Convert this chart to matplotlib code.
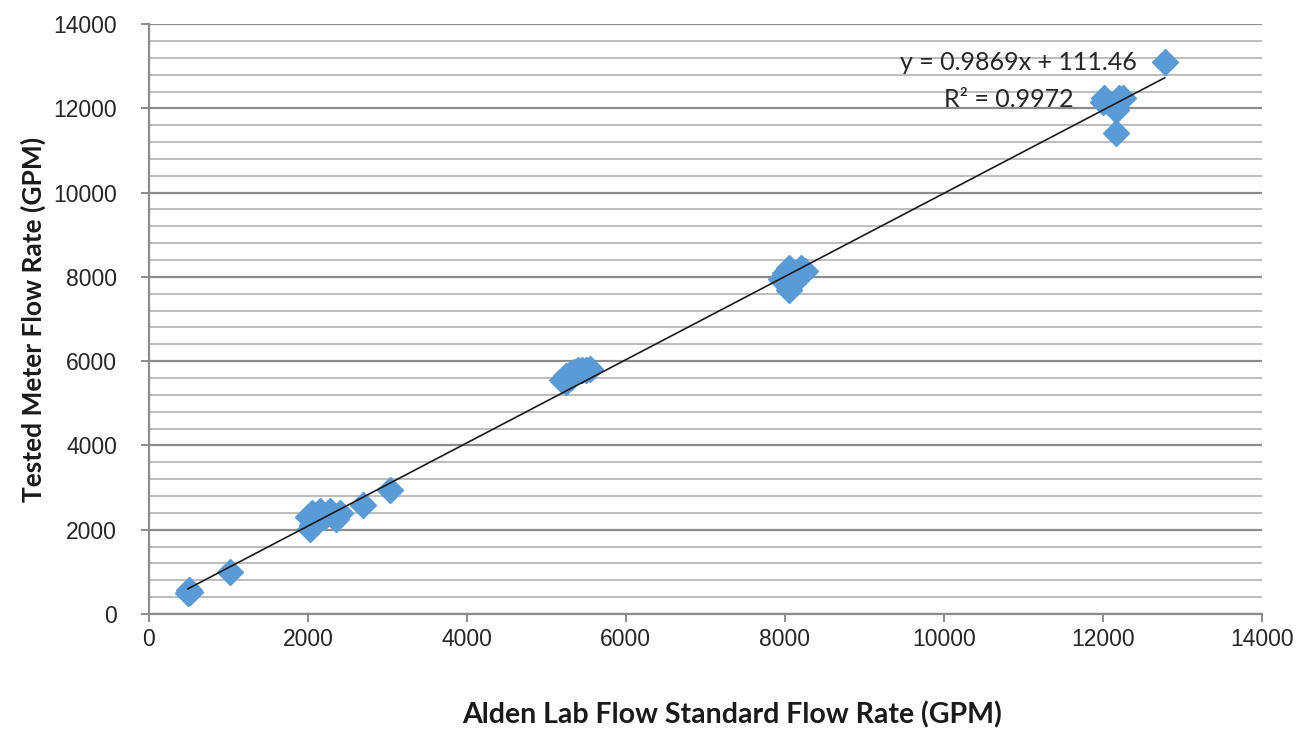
import numpy as np
import matplotlib.pyplot as plt
from matplotlib.ticker import MultipleLocator

# Alden lab standard flow (x) vs tested meter flow (y), GPM
lab_flow = [490, 520, 510, 1020,
            2000, 2030, 2050, 2100, 2150, 2200, 2250, 2300, 2350, 2400, 2050, 2150, 2280,
            2690, 3030,
            5200, 5250, 5300, 5350, 5400, 5450, 5500, 5550, 5300, 5250,
            8000, 8050, 8100, 8050, 8200, 8150, 8100, 7950, 8250,
            12020, 12200, 12170, 12170, 12250, 12100, 12000, 12780]
meter_flow = [500, 520, 560, 1000,
              2300, 2020, 2400, 2200, 2450, 2300, 2400, 2350, 2250, 2400, 2100, 2280, 2450,
              2590, 2950,
              5550, 5650, 5700, 5750, 5780, 5800, 5800, 5820, 5600, 5500,
              8100, 8200, 8000, 7700, 8200, 8050, 7850, 7950, 8150,
              12250, 12250, 11950, 11420, 12250, 12100, 12150, 13100]

slope = 0.9869
intercept = 111.46
r2 = 0.9972

plt.rcParams['font.family'] = ['Liberation Sans', 'DejaVu Sans']

fig = plt.figure(figsize=(13.06, 7.3), dpi=100)
ax = fig.add_axes([0.114, 0.159, 0.852, 0.808])

ax.set_xlim(0, 14000)
ax.set_ylim(0, 14000)
ax.xaxis.set_major_locator(MultipleLocator(2000))
ax.yaxis.set_major_locator(MultipleLocator(2000))
ax.yaxis.set_minor_locator(MultipleLocator(400))

ax.grid(which='major', axis='y', color='#8c8c8c', linewidth=1.6)
ax.grid(which='minor', axis='y', color='#bdbdbd', linewidth=1.4)
ax.set_axisbelow(True)

for s in ['top', 'right']:
    ax.spines[s].set_visible(False)
for s in ['left', 'bottom']:
    ax.spines[s].set_color('#8c8c8c')
    ax.spines[s].set_linewidth(1.6)

ax.tick_params(axis='both', which='major', direction='out', length=6,
               color='#8c8c8c', width=1.4, labelsize=16.5, labelcolor='#262626')
ax.tick_params(axis='y', which='major', pad=17)
ax.tick_params(axis='x', which='major', pad=4)
ax.tick_params(axis='y', which='minor', length=0)

ax.plot(lab_flow, meter_flow, linestyle='none', marker='D', markersize=13,
        color='#5b9bd5', markeredgecolor='#5b9bd5', zorder=3)

xs = np.array([min(lab_flow), max(lab_flow)])
ax.plot(xs, slope * xs + intercept, color='#1a1a1a', linewidth=1.2, zorder=4)

ax.text(10940, 13100, f"y = {slope}x + {intercept}", fontsize=18, family=['Lato', 'DejaVu Sans'],
        ha='center', va='center', color='#262626', zorder=5)
ax.text(10820, 12200, f"R² = {r2}", fontsize=18, family=['Lato', 'DejaVu Sans'],
        ha='center', va='center', color='#262626', zorder=5)

ax.set_xlabel('Alden Lab Flow Standard Flow Rate (GPM)', fontsize=20.5, fontweight='bold',
              family=['Lato', 'DejaVu Sans'], color='#1a1a1a', labelpad=36)
ax.xaxis.label.set_x(0.524)
ax.set_ylabel('Tested Meter Flow Rate (GPM)', fontsize=19, fontweight='bold',
              family=['Lato', 'DejaVu Sans'], color='#1a1a1a', labelpad=5)

fig.savefig('out.png', dpi=100, facecolor='white')
